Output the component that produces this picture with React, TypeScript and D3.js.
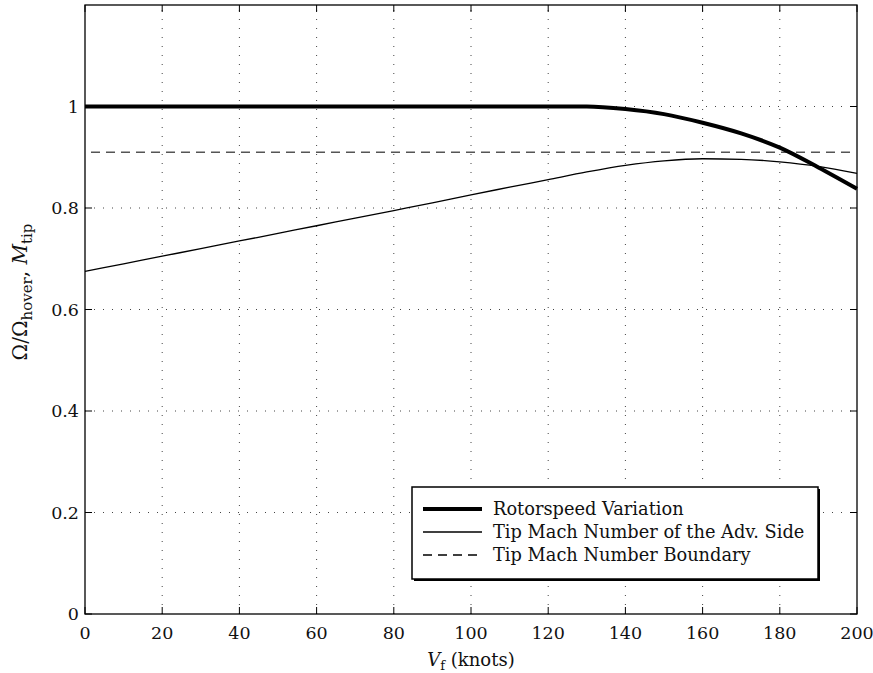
import React, { useEffect, useRef } from 'react';
import * as d3 from 'd3';

// Forward speed (knots)
const speeds = [0, 10, 20, 30, 40, 50, 60, 70, 80, 90, 100, 110, 120, 130, 140, 150, 160, 170, 180, 190, 200];
// Omega / Omega_hover
const rotorspeed = [1, 1, 1, 1, 1, 1, 1, 1, 1, 1, 1, 1, 1, 1, 0.995, 0.985, 0.968, 0.947, 0.919, 0.88, 0.838];
// Tip Mach number on the advancing side
const tipMach = [0.675, 0.69, 0.705, 0.72, 0.735, 0.75, 0.765, 0.78, 0.795, 0.81, 0.826, 0.841, 0.856, 0.871, 0.884, 0.893, 0.897, 0.896, 0.891, 0.882, 0.868];
const machBoundary = 0.91;

const xTicks = [0, 20, 40, 60, 80, 100, 120, 140, 160, 180, 200];
const yTicks = [0, 0.2, 0.4, 0.6, 0.8, 1];
const legendLabels = ['Rotorspeed Variation', 'Tip Mach Number of the Adv. Side', 'Tip Mach Number Boundary'];

const FONT = '"DejaVu Serif", "Liberation Serif", serif';

const App: React.FC = () => {
  const svgRef = useRef<SVGSVGElement | null>(null);

  useEffect(() => {
    if (!svgRef.current) return;
    const svg = d3.select(svgRef.current);
    svg.selectAll('*').remove();

    const left = 85, right = 857, top = 5, bottom = 614;
    const x = d3.scaleLinear().domain([0, 200]).range([left, right]);
    const y = d3.scaleLinear().domain([0, 1.2]).range([bottom, top]);

    // grid
    const grid = svg.append('g').attr('stroke', '#444').attr('stroke-width', 1).attr('stroke-dasharray', '1,8');
    xTicks.slice(1, -1).forEach((t) => {
      grid.append('line').attr('x1', x(t)).attr('x2', x(t)).attr('y1', bottom).attr('y2', top);
    });
    yTicks.slice(1).forEach((t) => {
      grid.append('line').attr('x1', left).attr('x2', right).attr('y1', y(t)).attr('y2', y(t));
    });

    // inward ticks on all four sides
    const ticks = svg.append('g').attr('stroke', '#000').attr('stroke-width', 1);
    xTicks.forEach((t) => {
      ticks.append('line').attr('x1', x(t)).attr('x2', x(t)).attr('y1', bottom).attr('y2', bottom - 7);
      ticks.append('line').attr('x1', x(t)).attr('x2', x(t)).attr('y1', top).attr('y2', top + 7);
    });
    yTicks.forEach((t) => {
      ticks.append('line').attr('x1', left).attr('x2', left + 7).attr('y1', y(t)).attr('y2', y(t));
      ticks.append('line').attr('x1', right).attr('x2', right - 7).attr('y1', y(t)).attr('y2', y(t));
    });

    // tick labels
    svg.append('g').selectAll('text').data(xTicks).join('text')
      .attr('x', (d) => x(d)).attr('y', 639)
      .attr('text-anchor', 'middle')
      .attr('font-family', FONT).attr('font-size', 17.5).attr('fill', '#111')
      .text((d) => String(d));
    svg.append('g').selectAll('text').data(yTicks).join('text')
      .attr('x', 79).attr('y', (d) => y(d) + 6)
      .attr('text-anchor', 'end')
      .attr('font-family', FONT).attr('font-size', 17.5).attr('fill', '#111')
      .text((d) => (d === 0 || d === 1 ? String(d) : d.toFixed(1)));

    const plot = svg.append('g');

    // boundary
    plot.append('line')
      .attr('x1', x(0) + 6).attr('x2', x(200) - 6)
      .attr('y1', y(machBoundary)).attr('y2', y(machBoundary))
      .attr('stroke', '#555').attr('stroke-width', 1.5).attr('stroke-dasharray', '9,6');

    const line = d3.line<number>().x((_, i) => x(speeds[i])).y((d) => y(d)).curve(d3.curveMonotoneX);

    plot.append('path').datum(tipMach).attr('d', line)
      .attr('fill', 'none').attr('stroke', '#000').attr('stroke-width', 1.3);
    plot.append('path').datum(rotorspeed).attr('d', line)
      .attr('fill', 'none').attr('stroke', '#000').attr('stroke-width', 4);

    // axes box
    svg.append('rect').attr('x', left).attr('y', top).attr('width', right - left).attr('height', bottom - top)
      .attr('fill', 'none').attr('stroke', '#000').attr('stroke-width', 1.3);

    // legend
    const lg = svg.append('g');
    lg.append('rect').attr('x', 414).attr('y', 489).attr('width', 406).attr('height', 92).attr('fill', '#000');
    lg.append('rect').attr('x', 412).attr('y', 487).attr('width', 406).attr('height', 92)
      .attr('fill', '#fff').attr('stroke', '#000').attr('stroke-width', 1.5);
    const rows = [509, 532, 555];
    const styles = [
      { w: 4, dash: null as string | null },
      { w: 1.3, dash: null as string | null },
      { w: 1.5, dash: '9,6' },
    ];
    legendLabels.forEach((lab, i) => {
      const l = lg.append('line').attr('x1', 423).attr('x2', 482).attr('y1', rows[i]).attr('y2', rows[i])
        .attr('stroke', '#000').attr('stroke-width', styles[i].w);
      if (styles[i].dash) l.attr('stroke-dasharray', styles[i].dash as string);
      lg.append('text').attr('x', 493).attr('y', rows[i] + 6)
        .attr('font-family', FONT).attr('font-size', 17.8).attr('fill', '#111')
        .text(lab);
    });

    // x label
    const xl = svg.append('text').attr('x', 471).attr('y', 666).attr('text-anchor', 'middle')
      .attr('font-family', FONT).attr('font-size', 18).attr('fill', '#111');
    xl.append('tspan').attr('font-style', 'italic').text('V');
    xl.append('tspan').attr('font-size', 13).attr('dy', 4).text('f');
    xl.append('tspan').attr('dy', -4).text(' (knots)');

    // y label
    const yl = svg.append('text').attr('transform', 'translate(27,292) rotate(-90)').attr('text-anchor', 'middle')
      .attr('font-family', FONT).attr('font-size', 20).attr('fill', '#111');
    yl.append('tspan').text('Ω/Ω');
    yl.append('tspan').attr('font-size', 15).attr('dy', 5).text('hover');
    yl.append('tspan').attr('dy', -5).text(', ');
    yl.append('tspan').attr('font-style', 'italic').text('M');
    yl.append('tspan').attr('font-size', 15).attr('dy', 5).text('tip');
  }, []);

  return <svg ref={svgRef} width={873} height={673} style={{ position: 'absolute', left: 0, top: 0, background: '#fff' }} />;
};

export default App;
